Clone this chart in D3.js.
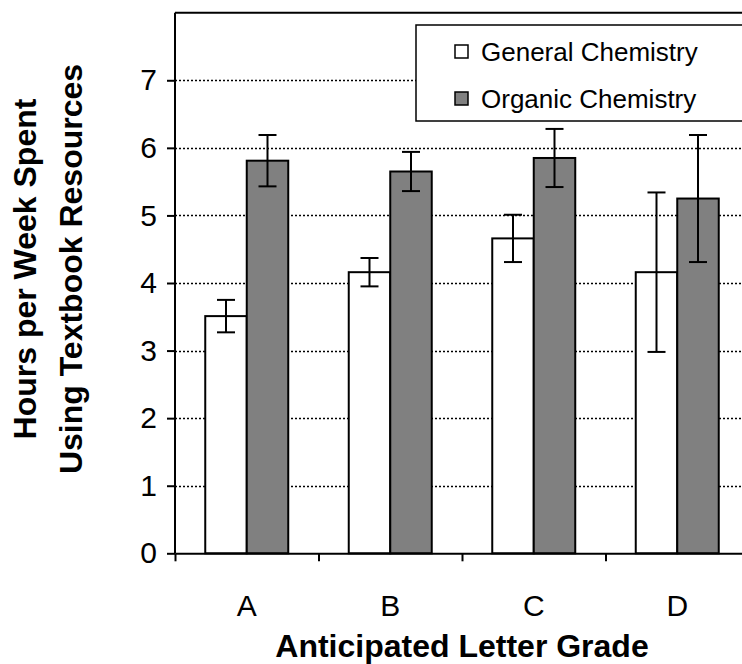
<!DOCTYPE html>
<html>
<head>
<meta charset="utf-8">
<script src="https://cdn.jsdelivr.net/npm/d3@7/dist/d3.min.js"></script>
<style>
  body { margin: 0; background: #fff; }
  text { font-family: 'Liberation Sans', Arial, sans-serif; fill: #000; }
</style>
</head>
<body>
<div id="chart"></div>
<script>
// Chart data
var grades = ['A', 'B', 'C', 'D'];
var seriesNames = ['General Chemistry', 'Organic Chemistry'];
var generalMeans = [3.51, 4.16, 4.66, 4.16];
var generalErrors = [0.24, 0.21, 0.35, 1.18];
var organicMeans = [5.81, 5.65, 5.85, 5.25];
var organicErrors = [0.38, 0.29, 0.43, 0.94];
var yTickValues = [0, 1, 2, 3, 4, 5, 6, 7];
var seriesColors = ['#ffffff', '#808080'];

// Set dimensions
var svgWidth = 742,
  svgHeight = 664,
  plotLeft = 175,
  plotRight = 749,
  plotTop = 12.7,
  plotBottom = 553.3;

var svg = d3
  .select('#chart')
  .append('svg')
  .attr('width', svgWidth)
  .attr('height', svgHeight);

// Scales
var x0 = d3.scaleBand().domain(grades).range([plotLeft, plotRight]).padding(0);
var x1 = d3
  .scaleBand()
  .domain(seriesNames)
  .range([0, x0.bandwidth()])
  .paddingInner(0)
  .paddingOuter(0.729);
var y = d3.scaleLinear().domain([0, 8]).range([plotBottom, plotTop]);

// Gridlines (dotted)
svg
  .append('g')
  .selectAll('line')
  .data(yTickValues.filter(function (d) { return d > 0; }))
  .enter()
  .append('line')
  .attr('x1', plotLeft)
  .attr('x2', plotRight)
  .attr('y1', function (d) { return Math.round(y(d)) + 0.5; })
  .attr('y2', function (d) { return Math.round(y(d)) + 0.5; })
  .attr('stroke', '#000')
  .attr('stroke-width', 1.6)
  .attr('stroke-dasharray', '2,2');

// Bars
var rows = grades.map(function (g, i) {
  return {
    grade: g,
    values: [
      { name: seriesNames[0], mean: generalMeans[i], err: generalErrors[i], color: seriesColors[0] },
      { name: seriesNames[1], mean: organicMeans[i], err: organicErrors[i], color: seriesColors[1] }
    ]
  };
});

var group = svg
  .append('g')
  .selectAll('g')
  .data(rows)
  .enter()
  .append('g')
  .attr('transform', function (d) { return 'translate(' + x0(d.grade) + ',0)'; });

group
  .selectAll('rect')
  .data(function (d) { return d.values; })
  .enter()
  .append('rect')
  .attr('x', function (d) { return x1(d.name); })
  .attr('width', x1.bandwidth())
  .attr('y', function (d) { return y(d.mean); })
  .attr('height', function (d) { return y(0) - y(d.mean); })
  .attr('fill', function (d) { return d.color; })
  .attr('stroke', '#000')
  .attr('stroke-width', 2);

// Error bars
var err = group
  .selectAll('g.err')
  .data(function (d) { return d.values; })
  .enter()
  .append('g')
  .attr('class', 'err')
  .attr('stroke', '#000')
  .attr('stroke-width', 2);

err
  .append('line')
  .attr('x1', function (d) { return x1(d.name) + x1.bandwidth() / 2; })
  .attr('x2', function (d) { return x1(d.name) + x1.bandwidth() / 2; })
  .attr('y1', function (d) { return y(d.mean + d.err); })
  .attr('y2', function (d) { return y(d.mean - d.err); });

[1, -1].forEach(function (sign) {
  err
    .append('line')
    .attr('x1', function (d) { return x1(d.name) + x1.bandwidth() / 2 - 9; })
    .attr('x2', function (d) { return x1(d.name) + x1.bandwidth() / 2 + 9; })
    .attr('y1', function (d) { return y(d.mean + sign * d.err); })
    .attr('y2', function (d) { return y(d.mean + sign * d.err); });
});

// Frame (top border)
svg
  .append('line')
  .attr('x1', plotLeft)
  .attr('x2', plotRight)
  .attr('y1', plotTop)
  .attr('y2', plotTop)
  .attr('stroke', '#000')
  .attr('stroke-width', 2);

// Y axis
var yAxis = svg
  .append('g')
  .attr('transform', 'translate(' + plotLeft + ',0)')
  .call(d3.axisLeft(y).tickValues(yTickValues).tickSize(8).tickPadding(10).tickSizeOuter(0));
yAxis.select('.domain').remove();
yAxis.selectAll('.tick line').attr('stroke-width', 2);
yAxis
  .selectAll('.tick text')
  .style('font-size', '30px')
  .style('font-family', "'Liberation Sans', Arial, sans-serif");
svg
  .append('line')
  .attr('x1', plotLeft)
  .attr('x2', plotLeft)
  .attr('y1', plotTop)
  .attr('y2', plotBottom)
  .attr('stroke', '#000')
  .attr('stroke-width', 2);

// X axis: ticks between categories
var xBounds = grades.map(function (g) { return x0(g); }).concat([plotRight]);
var xAxisScale = d3.scaleLinear().domain([plotLeft, plotRight]).range([plotLeft, plotRight]);
var xAxis = svg
  .append('g')
  .attr('transform', 'translate(0,' + plotBottom + ')')
  .call(d3.axisBottom(xAxisScale).tickValues(xBounds).tickSize(8).tickFormat('').tickSizeOuter(0));
xAxis.select('.domain').attr('stroke-width', 2);
xAxis.selectAll('.tick line').attr('stroke-width', 2);

// Category labels
svg
  .append('g')
  .selectAll('text')
  .data(grades)
  .enter()
  .append('text')
  .attr('x', function (d) { return x0(d) + x0.bandwidth() / 2; })
  .attr('y', 616)
  .attr('text-anchor', 'middle')
  .style('font-size', '30px')
  .text(function (d) { return d; });

// Axis titles
svg
  .append('text')
  .attr('x', (plotLeft + plotRight) / 2)
  .attr('y', 657)
  .attr('text-anchor', 'middle')
  .style('font-size', '32px')
  .style('font-weight', 'bold')
  .text('Anticipated Letter Grade');

var yTitle = svg
  .append('text')
  .attr('transform', 'translate(36,269) rotate(-90)')
  .attr('text-anchor', 'middle')
  .style('font-size', '32px')
  .style('font-weight', 'bold');
yTitle.append('tspan').attr('x', 0).attr('y', 0).text('Hours per Week Spent');
yTitle.append('tspan').attr('x', 0).attr('y', 46).text('Using Textbook Resources');

// Legend
var legend = svg.append('g').attr('transform', 'translate(416,25)');
legend
  .append('rect')
  .attr('width', 332)
  .attr('height', 96)
  .attr('fill', '#fff')
  .attr('stroke', '#000')
  .attr('stroke-width', 1.5);

var legendItem = legend
  .selectAll('g')
  .data(seriesNames)
  .enter()
  .append('g')
  .attr('transform', function (d, i) { return 'translate(39,' + (26 + i * 47) + ')'; });

legendItem
  .append('rect')
  .attr('x', 0)
  .attr('y', -6)
  .attr('width', 13)
  .attr('height', 13)
  .attr('fill', function (d, i) { return seriesColors[i]; })
  .attr('stroke', '#000')
  .attr('stroke-width', 1.5);

legendItem
  .append('text')
  .attr('x', 26)
  .attr('y', 1)
  .attr('dominant-baseline', 'central')
  .style('font-size', '26px')
  .text(function (d) { return d; });
</script>
</body>
</html>
